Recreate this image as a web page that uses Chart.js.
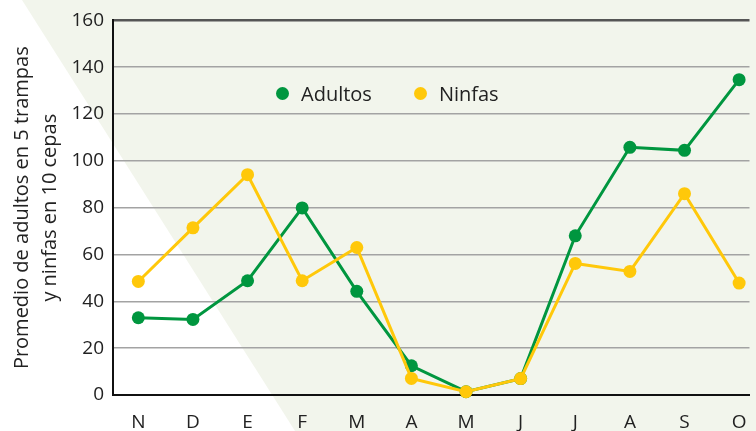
<!DOCTYPE html>
<html lang="es">
<head>
  <meta charset="UTF-8" />
  <title>Adultos y ninfas</title>
  <script src="https://cdn.jsdelivr.net/npm/chart.js"></script>
  <style>
    body {
      margin: 0;
      background: #ffffff;
      font-family: 'Open Sans', sans-serif;
    }
    .wrap {
      position: relative;
      width: 756px;
      height: 431px;
      overflow: hidden;
    }
    .bg {
      position: absolute;
      inset: 0;
      background: #f2f5ec;
      clip-path: polygon(22px 0, 100% 0, 100% 100%, 295px 100%);
    }
    canvas {
      position: absolute;
      left: 0;
      top: 0;
    }
    .legend {
      position: absolute;
      top: 80px;
      left: 276px;
      font-size: 20px;
      color: #222;
      display: flex;
      align-items: center;
    }
    .legend span.dot {
      display: inline-block;
      width: 13px;
      height: 13px;
      border-radius: 50%;
      margin-right: 12px;
    }
    .legend .item {
      display: flex;
      align-items: center;
      margin-right: 42px;
    }
  </style>
</head>
<body>
  <div class="wrap">
    <div class="bg"></div>
    <canvas id="chart" width="756" height="431"></canvas>
    <div class="legend">
      <div class="item"><span class="dot" style="background:#00963f"></span>Adultos</div>
      <div class="item"><span class="dot" style="background:#ffc80a"></span>Ninfas</div>
    </div>
  </div>

  <script>
    // meses de noviembre a octubre
    const months = ["N", "D", "E", "F", "M", "A", "M", "J", "J", "A", "S", "O"];
    const adultos = [33, 32.3, 48.8, 79.9, 44.3, 12.5, 1.4, 7, 68, 105.8, 104.5, 134.7];
    const ninfas = [48.5, 71.4, 94.1, 48.8, 63, 7.1, 1.4, 7, 56.2, 52.8, 86, 47.8];
    const yTicks = [0, 20, 40, 60, 80, 100, 120, 140, 160];

    const green = '#00963f';
    const yellow = '#ffc80a';

    function toPoints(arr) {
      return arr.map((v, i) => ({ x: i, y: v }));
    }

    Chart.defaults.font.family = "'Open Sans', sans-serif";
    Chart.defaults.color = '#222';

    const ctx = document.getElementById('chart').getContext('2d');
    new Chart(ctx, {
      type: 'line',
      data: {
        datasets: [
          {
            label: 'Ninfas',
            data: toPoints(ninfas),
            borderColor: yellow,
            backgroundColor: yellow,
            pointBackgroundColor: yellow,
            pointBorderWidth: 0,
            pointRadius: 6.5,
            borderWidth: 3,
            tension: 0,
            clip: false
          },
          {
            label: 'Adultos',
            data: toPoints(adultos),
            borderColor: green,
            backgroundColor: green,
            pointBackgroundColor: green,
            pointBorderWidth: 0,
            pointRadius: 6.5,
            borderWidth: 3,
            tension: 0,
            clip: false
          }
        ]
      },
      options: {
        responsive: false,
        animation: false,
        layout: { padding: { top: 18, right: 0, bottom: 0, left: 0 } },
        plugins: {
          legend: { display: false },
          tooltip: { enabled: false }
        },
        scales: {
          x: {
            type: 'linear',
            min: -0.4636,
            max: 11.19,
            grid: { display: false },
            border: { display: true, color: '#111', width: 2 },
            ticks: {
              stepSize: 1,
              includeBounds: false,
              autoSkip: false,
              maxRotation: 0,
              padding: 8,
              font: { size: 19 },
              callback: (v) => (Number.isInteger(v) && months[v] !== undefined ? months[v] : '')
            },
            afterFit: (scale) => { scale.height = 36; }
          },
          y: {
            min: 0,
            max: 160,
            afterBuildTicks: (scale) => { scale.ticks = yTicks.map(v => ({ value: v })); },
            grid: {
              drawTicks: false,
              color: (c) => (c.tick && c.tick.value === 160 ? '#555' : (c.tick && c.tick.value === 0 ? 'rgba(0,0,0,0)' : '#a3a3a3')),
              lineWidth: (c) => (c.tick && c.tick.value === 160 ? 2.5 : 1.6)
            },
            border: { display: true, color: '#111', width: 2 },
            ticks: {
              padding: 9,
              font: { size: 19 }
            },
            title: {
              display: true,
              text: ['Promedio de adultos en 5 trampas', 'y ninfas en 10 cepas'],
              font: { size: 20, lineHeight: 1.4 },
              padding: { top: 8, bottom: 0 }
            },
            afterFit: (scale) => { scale.width = 113; }
          }
        }
      }
    });
  </script>
</body>
</html>
